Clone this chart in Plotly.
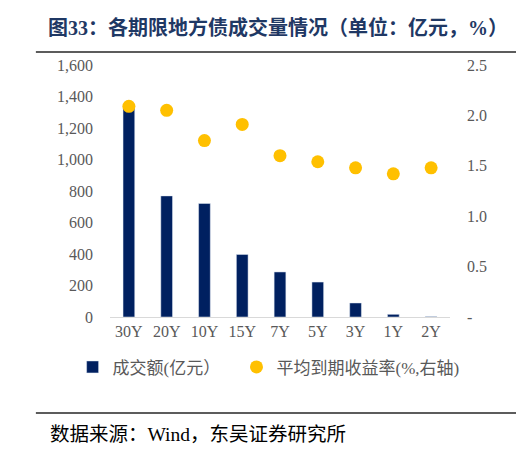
import plotly.graph_objects as go

TERMS = ['30Y', '20Y', '10Y', '15Y', '7Y', '5Y', '3Y', '1Y', '2Y']
VOLUME = [1335, 769, 721, 397, 286, 222, 89, 17, 3]          # 成交额(亿元)
YIELD_AVG = [2.09, 2.05, 1.75, 1.91, 1.60, 1.54, 1.48, 1.42, 1.48]  # 平均到期收益率(%)

LEFT_TICKS = [0, 200, 400, 600, 800, 1000, 1200, 1400, 1600]
RIGHT_TICKS = [0, 0.5, 1.0, 1.5, 2.0, 2.5]
RIGHT_TEXT = ['-', '0.5', '1.0', '1.5', '2.0', '2.5']

SERIF = 'Liberation Serif, Times New Roman, Noto Sans CJK SC, serif'
GREY = '#595959'

fig = go.Figure()
fig.add_trace(go.Bar(
    x=TERMS, y=VOLUME, name='成交额(亿元）', legend='legend',
    marker=dict(color='#002060'), width=0.31,
))
fig.add_trace(go.Scatter(
    x=TERMS, y=YIELD_AVG, name='平均到期收益率(%,右轴)', yaxis='y2', legend='legend2',
    mode='markers', marker=dict(color='#FFC000', size=13),
))

LEG = dict(orientation='h', y=-0.2, xanchor='left', yanchor='middle',
           font=dict(size=17, color=GREY), itemwidth=30)

# page body adds 8px, so the figure is drawn 8px smaller and offset
fig.update_layout(
    width=516, height=454,
    margin=dict(l=102, r=74, t=57, b=145, autoexpand=False),
    paper_bgcolor='white', plot_bgcolor='white',
    font=dict(family=SERIF, color=GREY, size=16),
    showlegend=True,
    legend=dict(LEG, x=-0.11),
    legend2=dict(LEG, x=0.372),
    # fixed category range so the markers don't pad the axis
    xaxis=dict(range=[-0.5, len(TERMS) - 0.5], showgrid=False, showline=True,
               linecolor='#D9D9D9', linewidth=1, ticks='', automargin=False,
               tickfont=dict(size=16, color=GREY)),
    yaxis=dict(range=[0, 1600], tickvals=LEFT_TICKS, tickformat=',', showgrid=False,
               zeroline=False, ticks='', ticklabelstandoff=16, automargin=False,
               tickfont=dict(size=16, color=GREY)),
    yaxis2=dict(range=[0, 2.5], tickvals=RIGHT_TICKS, ticktext=RIGHT_TEXT, overlaying='y',
                side='right', showgrid=False, zeroline=False, ticks='',
                ticklabelstandoff=16, automargin=False, tickfont=dict(size=16, color=GREY)),
    title=dict(text='<b>图33：各期限地方债成交量情况（单位：亿元，%）</b>',
               x=40 / 516, xanchor='left', y=1 - 20 / 454, yanchor='middle',
               font=dict(family=SERIF, size=20, color='#1F3864')),
)

# rules above the plot and above the source note
for y in [1.052, -0.381]:
    fig.add_shape(type='line', xref='paper', yref='paper', x0=-0.218, x1=1.197,
                  y0=y, y1=y, line=dict(color='#262626', width=1.5))

fig.add_annotation(text='数据来源：Wind，东吴证券研究所', xref='paper', yref='paper',
                   x=-0.182, y=-0.468, xanchor='left', yanchor='middle', showarrow=False,
                   font=dict(family=SERIF, size=19.5, color='black'))

fig.write_html('out.html')
